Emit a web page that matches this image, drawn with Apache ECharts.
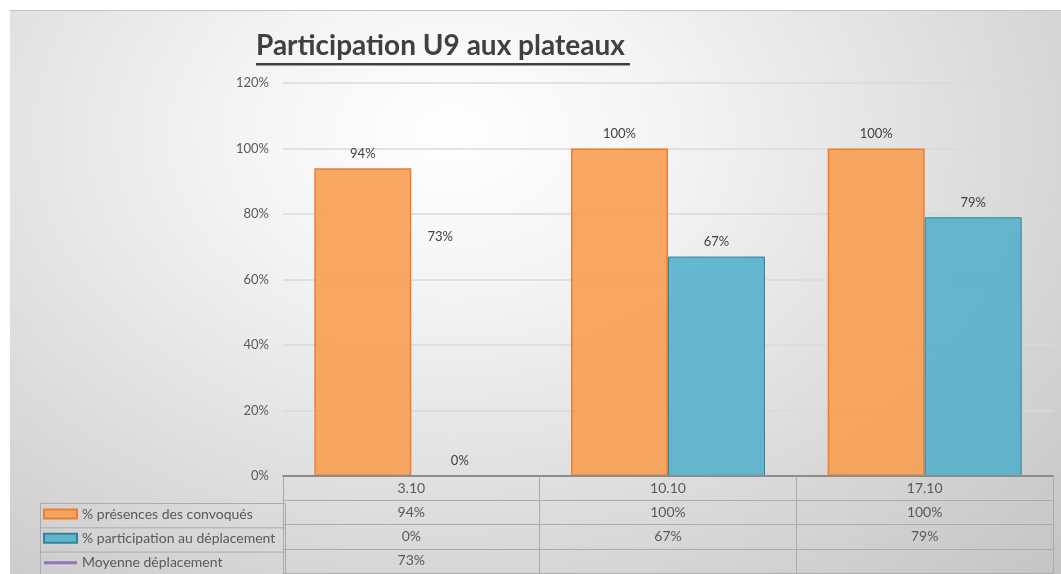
<!DOCTYPE html>
<html>
<head>
<meta charset="utf-8">
<script src="https://cdn.jsdelivr.net/npm/echarts@6/dist/echarts.min.js"></script>
<style>
  html, body { margin: 0; padding: 0; background: #fff; }
  #chart {
    position: absolute; left: 10px; top: 10px; width: 1051px; height: 564px;
    border-top: 1px solid #c4c4c4;
    box-sizing: border-box;
    background: radial-gradient(ellipse farthest-corner at 42% 22%, #ffffff 0%, #f4f4f4 25%, #c4c4c4 100%);
  }
</style>
</head>
<body>
<div id="chart"></div>
<script>
// data
var categories = ['3.10', '10.10', '17.10'];
var presences = [0.94, 1.00, 1.00];
var participation = [0.00, 0.67, 0.79];
var moyenne = [0.73, null, null];
var seriesNames = ['% présences des convoqués', '% participation au déplacement', 'Moyenne déplacement'];
var yTicks = [0, 0.2, 0.4, 0.6, 0.8, 1.0, 1.2];

var pct = function (v) { return v == null ? '' : Math.round(v * 100) + '%'; };
var txt = '#595959';
var font = 'Lato';
var tableLine = '#ababab';
var rowH = 24.3;

var mychart = echarts.init(document.getElementById('chart'));

// one extra category axis per table row, stacked under the plot
function tableRow(values, idx) {
    return {
        type: 'category',
        position: 'bottom',
        gridIndex: 0,
        offset: rowH * idx,
        data: categories.map(function (c, i) { return values ? pct(values[i]) : ''; }),
        axisLine: { show: true, lineStyle: { color: tableLine, width: 1 } },
        axisTick: { show: false },
        axisLabel: { show: !!values, color: txt, fontFamily: font, fontSize: 14, margin: 5 },
        splitLine: { show: false }
    };
}

mychart.setOption({
    backgroundColor: 'transparent',
    animation: false,
    textStyle: { fontFamily: font },
    grid: { left: 273, right: 8, top: 72, bottom: 98 },
    legend: {
        orient: 'vertical',
        left: 33,
        top: 496,
        padding: 0,
        height: 68,
        itemWidth: 33,
        itemHeight: 9,
        itemGap: 10.3,
        icon: 'rect',
        selectedMode: false,
        textStyle: { color: txt, fontSize: 14, fontFamily: font, lineHeight: 14 },
        data: [
            { name: seriesNames[0] },
            { name: seriesNames[1] },
            { name: seriesNames[2], icon: 'path://M0,0L0.01,0Z M0,3.2H33V6.2H0Z M0,9L0.01,9Z' }
        ]
    },
    xAxis: [
        {
            type: 'category',
            data: categories,
            axisLine: { show: true, lineStyle: { color: '#8c8c8c', width: 2 } },
            axisTick: { show: true, length: rowH * 4, lineStyle: { color: tableLine } },
            axisLabel: { color: txt, fontFamily: font, fontSize: 14, margin: 5 },
            splitLine: { show: false },
            z: 5
        },
        tableRow(presences, 1),
        tableRow(participation, 2),
        tableRow(moyenne, 3),
        tableRow(null, 4)
    ],
    yAxis: {
        type: 'value',
        min: yTicks[0],
        max: yTicks[yTicks.length - 1],
        interval: 0.2,
        axisLine: { show: false },
        axisTick: { show: false },
        axisLabel: { color: txt, fontFamily: font, fontSize: 13, margin: 14, formatter: pct },
        splitLine: { lineStyle: { color: '#dadada', width: 1.5 } }
    },
    series: [
        {
            name: seriesNames[0],
            type: 'bar',
            barWidth: 97,
            barGap: '0%',
            data: presences,
            itemStyle: { color: 'rgba(247,158,82,0.9)', borderColor: '#ED7D31', borderWidth: 1.5 },
            label: { show: true, position: 'top', distance: 8, color: '#404040', fontSize: 13, fontFamily: font, formatter: function (p) { return pct(p.value); } }
        },
        {
            name: seriesNames[1],
            type: 'bar',
            barWidth: 97,
            barGap: '0%',
            data: participation,
            itemStyle: { color: 'rgba(84,176,203,0.9)', borderColor: '#31849B', borderWidth: 1 },
            label: { show: true, position: 'top', distance: 8, color: '#404040', fontSize: 13, fontFamily: font, formatter: function (p) { return pct(p.value); } }
        },
        {
            name: seriesNames[2],
            type: 'line',
            data: moyenne,
            symbol: 'circle',
            symbolSize: 0.1,
            itemStyle: { color: '#9673B9' },
            lineStyle: { color: '#9673B9', width: 3 },
            label: { show: true, position: 'right', distance: 16, color: '#404040', fontSize: 13, fontFamily: font, formatter: function (p) { return pct(p.value); } }
        }
    ],
    graphic: [
        // title
        {
            type: 'group',
            left: 246,
            top: 21,
            children: [
                { type: 'text', style: { text: 'Participation U9 aux plateaux', fontFamily: font, fontWeight: 'bold', fontSize: 28, fill: '#404040' } },
                { type: 'rect', shape: { x: 0, y: 31, width: 374, height: 2.5 }, style: { fill: '#404040' } }
            ]
        },
        // frame of the legend column of the data table
        {
            type: 'group',
            left: 28,
            top: 490,
            children: [
                { type: 'rect', shape: { x: 0, y: 0, width: 245, height: rowH * 3 }, style: { fill: 'none', stroke: tableLine, lineWidth: 1 } },
                { type: 'line', shape: { x1: 0, y1: rowH, x2: 245, y2: rowH }, style: { stroke: tableLine } },
                { type: 'line', shape: { x1: 0, y1: rowH * 2, x2: 245, y2: rowH * 2 }, style: { stroke: tableLine } }
            ]
        }
    ]
});
</script>
</body>
</html>
